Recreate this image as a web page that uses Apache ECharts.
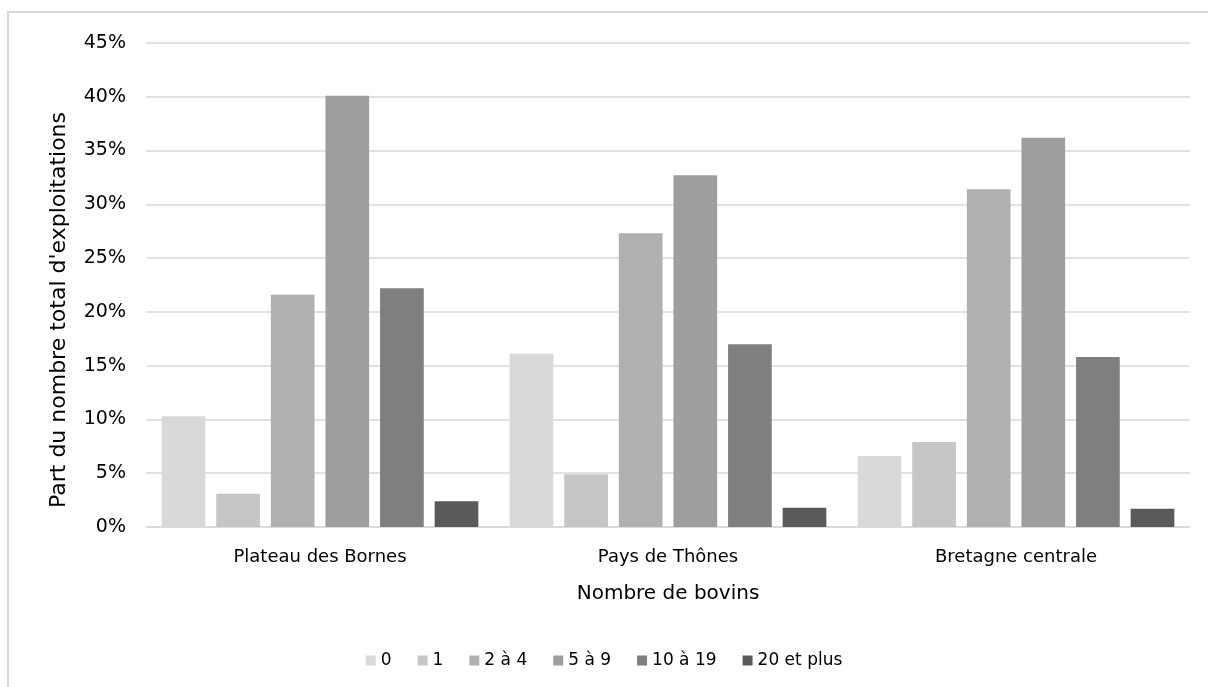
<!DOCTYPE html>
<html>
<head>
<meta charset="utf-8">
<script src="https://cdn.jsdelivr.net/npm/echarts@6/dist/echarts.min.js"></script>
<style>
html,body{margin:0;padding:0;background:#fff;}
#chart{width:1208px;height:687px;}
</style>
</head>
<body>
<div id="chart"></div>
<script>
const categories = ['Plateau des Bornes', 'Pays de Thônes', 'Bretagne centrale'];
const seriesNames = ['0', '1', '2 à 4', '5 à 9', '10 à 19', '20 et plus'];
const s0 = [10.3, 16.1, 6.6];
const s1 = [3.1, 4.9, 7.9];
const s2 = [21.6, 27.3, 31.4];
const s3 = [40.1, 32.7, 36.2];
const s4 = [22.2, 17.0, 15.8];
const s5 = [2.4, 1.8, 1.7];
const seriesData = [s0, s1, s2, s3, s4, s5];
const colors = ['#d9d9d9', '#c6c6c6', '#b0b0b0', '#9e9e9e', '#7f7f7f', '#5a5a5a'];
const yTicks = [0, 5, 10, 15, 20, 25, 30, 35, 40, 45];

const FONT = 'DejaVu Sans';
const chart = echarts.init(document.getElementById('chart'), null, {renderer: 'canvas'});
chart.setOption({
  backgroundColor: '#fff',
  animation: false,
  textStyle: {fontFamily: FONT, color: '#000'},
  graphic: [{
    type: 'rect', silent: true,
    shape: {x: 8, y: 12, width: 1400, height: 1000},
    style: {fill: 'none', stroke: '#d9d9d9', lineWidth: 2}
  }],
  grid: {left: 146, right: 18, top: 43, bottom: 160},
  legend: {
    data: seriesNames,
    bottom: 13,
    left: 'center',
    itemWidth: 10, itemHeight: 10, itemGap: 26,
    icon: 'rect',
    textStyle: {fontFamily: FONT, fontSize: 17, color: '#000'}
  },
  xAxis: {
    type: 'category',
    data: categories,
    name: 'Nombre de bovins',
    nameLocation: 'middle',
    nameGap: 57,
    nameTextStyle: {fontFamily: FONT, fontSize: 20, color: '#000'},
    axisLine: {lineStyle: {color: '#d9d9d9', width: 1.5}},
    axisTick: {show: false},
    axisLabel: {fontFamily: FONT, fontSize: 18, color: '#000', margin: 21}
  },
  yAxis: {
    type: 'value',
    min: 0, max: 45, interval: 5,
    name: "Part du nombre total d'exploitations",
    nameLocation: 'middle',
    nameGap: 76,
    nameTextStyle: {fontFamily: FONT, fontSize: 22, color: '#000', padding: [0, 50, 0, 0]},
    axisLine: {show: false},
    axisTick: {show: false},
    axisLabel: {fontFamily: FONT, fontSize: 19, color: '#000', margin: 20,
      formatter: v => yTicks.includes(v) ? v + '%' : ''},
    splitLine: {lineStyle: {color: '#d9d9d9', width: 1.5}}
  },
  series: seriesData.map((d, i) => ({
    name: seriesNames[i],
    type: 'bar',
    data: d,
    barGap: '25%',
    barCategoryGap: '9%',
    itemStyle: {color: colors[i]}
  }))
});
</script>
</body>
</html>
